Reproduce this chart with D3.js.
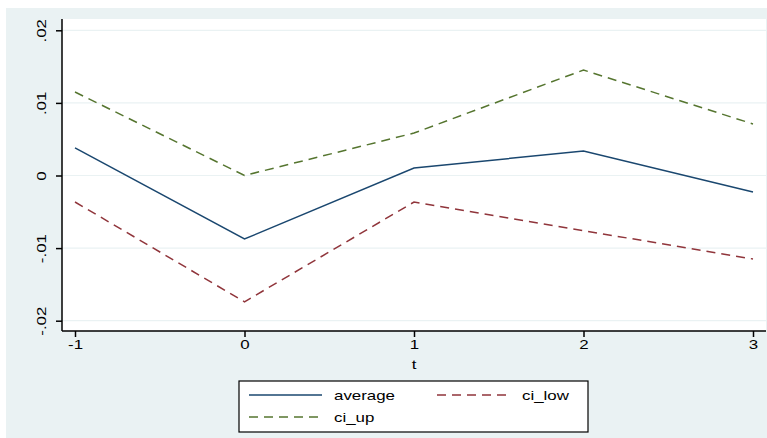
<!DOCTYPE html>
<html>
<head>
<meta charset="utf-8">
<script src="https://cdn.jsdelivr.net/npm/d3@7"></script>
<style>
  body { margin: 0; background: #fff; }
  text { font-family: "Liberation Sans", Arial, sans-serif; }
</style>
</head>
<body>
<div id="chart"></div>
<script>
// Chart data
const periods = [-1, 0, 1, 2, 3];
const average = [0.0038, -0.00875, 0.00103, 0.00337, -0.00227];
const ciLow = [-0.00365, -0.0174, -0.00365, -0.0076, -0.0115];
const ciUp = [0.0115, 0.0, 0.00585, 0.01453, 0.0071];
const yTicks = [-0.02, -0.01, 0, 0.01, 0.02];
const yTickLabels = ["-.02", "-.01", "0", ".01", ".02"];

const width = 767, height = 438;
const fontSize = "13.5px";
const stretch = "scale(1.25,1)"; // Stata text is wider than Liberation Sans

const svg = d3.select("#chart").append("svg")
  .attr("width", width)
  .attr("height", height);

// Outer background
svg.append("rect")
  .attr("x", 6).attr("y", 8)
  .attr("width", width - 6).attr("height", height - 8)
  .attr("fill", "#eaf2f3");

// Plot region
const plot = {left: 62, right: 766, top: 19, bottom: 331};
svg.append("rect")
  .attr("x", plot.left).attr("y", plot.top)
  .attr("width", plot.right - plot.left).attr("height", plot.bottom - plot.top)
  .attr("fill", "#fff");

const x = d3.scaleLinear().domain([-1, 3]).range([75, 753]);
const y = d3.scaleLinear().domain([-0.02, 0.02]).range([320.7, 30.3]);

// Gridlines
svg.append("g").selectAll("line")
  .data(yTicks)
  .join("line")
  .attr("x1", plot.left).attr("x2", plot.right)
  .attr("y1", d => y(d)).attr("y2", d => y(d))
  .attr("stroke", "#eaf2f3")
  .attr("stroke-width", 1.2);

// Y axis
const yAxis = svg.append("g")
  .attr("transform", `translate(${plot.left},0)`)
  .call(d3.axisLeft(y).tickValues(yTicks).tickSize(6).tickFormat((d, i) => yTickLabels[i]));
yAxis.select(".domain")
  .attr("d", `M0,${plot.top}V${plot.bottom}`)
  .attr("stroke", "#000").attr("stroke-width", 1.5);
yAxis.selectAll(".tick line").attr("stroke-width", 1.5);
yAxis.selectAll(".tick text")
  .attr("x", 0).attr("dy", 0)
  .attr("transform", `translate(-16.5,0) rotate(-90) ${stretch}`)
  .attr("text-anchor", "middle")
  .style("font-size", fontSize)
  .attr("fill", "#000");

// X axis
const xAxis = svg.append("g")
  .attr("transform", `translate(0,${plot.bottom})`)
  .call(d3.axisBottom(x).tickValues(periods).tickSize(6).tickFormat(d3.format("d")));
xAxis.select(".domain")
  .attr("d", `M${plot.left},0H${plot.right}`)
  .attr("stroke", "#000").attr("stroke-width", 1.5);
xAxis.selectAll(".tick line").attr("stroke-width", 1.5);
xAxis.selectAll(".tick text")
  .attr("y", 0).attr("dy", 0)
  .attr("transform", `translate(0,17.5) ${stretch}`)
  .style("font-size", fontSize)
  .attr("fill", "#000")
  .text(d => d < 0 ? "-" + Math.abs(d) : d);

// X axis title
svg.append("text")
  .attr("transform", `translate(${(x(-1) + x(3)) / 2},368.5) ${stretch}`)
  .attr("text-anchor", "middle")
  .style("font-size", fontSize)
  .text("t");

// Series
const series = [
  {name: "average", values: average, color: "#1a476f", dash: null},
  {name: "ci_low", values: ciLow, color: "#90353b", dash: "9,6"},
  {name: "ci_up", values: ciUp, color: "#55752f", dash: "9,6"}
];

const line = d3.line()
  .x((d, i) => x(periods[i]))
  .y(d => y(d));

svg.append("g").selectAll("path")
  .data(series)
  .join("path")
  .attr("d", d => line(d.values))
  .attr("fill", "none")
  .attr("stroke", d => d.color)
  .attr("stroke-width", 1.5)
  .attr("stroke-dasharray", d => d.dash);

// Legend
svg.append("rect")
  .attr("x", 239).attr("y", 381)
  .attr("width", 349).attr("height", 51)
  .attr("fill", "#fff")
  .attr("stroke", "#000")
  .attr("stroke-width", 1.2);

const legendPos = [
  {x: 249, y: 395},
  {x: 437, y: 395},
  {x: 249, y: 417}
];

const legend = svg.append("g").selectAll("g")
  .data(series)
  .join("g")
  .attr("transform", (d, i) => `translate(${legendPos[i].x},${legendPos[i].y})`);

legend.append("line")
  .attr("x1", 0).attr("x2", 73)
  .attr("y1", 0).attr("y2", 0)
  .attr("stroke", d => d.color)
  .attr("stroke-width", 1.5)
  .attr("stroke-dasharray", d => d.dash);

legend.append("text")
  .attr("transform", `translate(85,5) ${stretch}`)
  .style("font-size", fontSize)
  .text(d => d.name);
</script>
</body>
</html>
